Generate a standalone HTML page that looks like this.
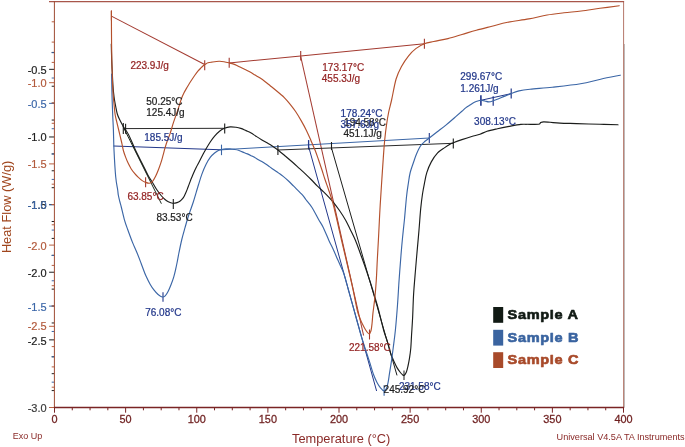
<!DOCTYPE html>
<html><head><meta charset="utf-8"><title>DSC</title>
<style>
html,body{margin:0;padding:0;background:#fff;}
body{width:685px;height:447px;overflow:hidden;}
svg{display:block;will-change:transform;}
text{font-family:"Liberation Sans",sans-serif;}
</style></head>
<body>
<svg width="685" height="447" viewBox="0 0 685 447">
<rect x="0" y="0" width="685" height="447" fill="#ffffff"/>
<line x1="51.70" y1="52.43" x2="54.30" y2="52.43" stroke="#1e1e1e" stroke-width="1.0"/>
<line x1="49.10" y1="69.33" x2="54.30" y2="69.33" stroke="#1e1e1e" stroke-width="1.0"/>
<line x1="51.70" y1="86.24" x2="54.30" y2="86.24" stroke="#1e1e1e" stroke-width="1.0"/>
<line x1="51.70" y1="103.15" x2="54.30" y2="103.15" stroke="#1e1e1e" stroke-width="1.0"/>
<line x1="51.70" y1="120.06" x2="54.30" y2="120.06" stroke="#1e1e1e" stroke-width="1.0"/>
<line x1="49.10" y1="136.97" x2="54.30" y2="136.97" stroke="#1e1e1e" stroke-width="1.0"/>
<line x1="51.70" y1="153.88" x2="54.30" y2="153.88" stroke="#1e1e1e" stroke-width="1.0"/>
<line x1="51.70" y1="170.78" x2="54.30" y2="170.78" stroke="#1e1e1e" stroke-width="1.0"/>
<line x1="51.70" y1="187.69" x2="54.30" y2="187.69" stroke="#1e1e1e" stroke-width="1.0"/>
<line x1="49.10" y1="204.60" x2="54.30" y2="204.60" stroke="#1e1e1e" stroke-width="1.0"/>
<line x1="51.70" y1="221.51" x2="54.30" y2="221.51" stroke="#1e1e1e" stroke-width="1.0"/>
<line x1="51.70" y1="238.42" x2="54.30" y2="238.42" stroke="#1e1e1e" stroke-width="1.0"/>
<line x1="51.70" y1="255.32" x2="54.30" y2="255.32" stroke="#1e1e1e" stroke-width="1.0"/>
<line x1="49.10" y1="272.23" x2="54.30" y2="272.23" stroke="#1e1e1e" stroke-width="1.0"/>
<line x1="51.70" y1="289.14" x2="54.30" y2="289.14" stroke="#1e1e1e" stroke-width="1.0"/>
<line x1="51.70" y1="306.05" x2="54.30" y2="306.05" stroke="#1e1e1e" stroke-width="1.0"/>
<line x1="51.70" y1="322.96" x2="54.30" y2="322.96" stroke="#1e1e1e" stroke-width="1.0"/>
<line x1="49.10" y1="339.87" x2="54.30" y2="339.87" stroke="#1e1e1e" stroke-width="1.0"/>
<line x1="51.70" y1="356.78" x2="54.30" y2="356.78" stroke="#1e1e1e" stroke-width="1.0"/>
<line x1="51.70" y1="373.68" x2="54.30" y2="373.68" stroke="#1e1e1e" stroke-width="1.0"/>
<line x1="51.70" y1="390.59" x2="54.30" y2="390.59" stroke="#1e1e1e" stroke-width="1.0"/>
<line x1="49.10" y1="407.50" x2="54.30" y2="407.50" stroke="#1e1e1e" stroke-width="1.0"/>
<line x1="51.70" y1="52.69" x2="54.30" y2="52.69" stroke="#3d68a6" stroke-width="1.0"/>
<line x1="51.70" y1="78.03" x2="54.30" y2="78.03" stroke="#3d68a6" stroke-width="1.0"/>
<line x1="49.10" y1="103.38" x2="54.30" y2="103.38" stroke="#3d68a6" stroke-width="1.0"/>
<line x1="51.70" y1="128.72" x2="54.30" y2="128.72" stroke="#3d68a6" stroke-width="1.0"/>
<line x1="51.70" y1="154.06" x2="54.30" y2="154.06" stroke="#3d68a6" stroke-width="1.0"/>
<line x1="51.70" y1="179.41" x2="54.30" y2="179.41" stroke="#3d68a6" stroke-width="1.0"/>
<line x1="49.10" y1="204.75" x2="54.30" y2="204.75" stroke="#3d68a6" stroke-width="1.0"/>
<line x1="51.70" y1="230.09" x2="54.30" y2="230.09" stroke="#3d68a6" stroke-width="1.0"/>
<line x1="51.70" y1="255.44" x2="54.30" y2="255.44" stroke="#3d68a6" stroke-width="1.0"/>
<line x1="51.70" y1="280.78" x2="54.30" y2="280.78" stroke="#3d68a6" stroke-width="1.0"/>
<line x1="49.10" y1="306.12" x2="54.30" y2="306.12" stroke="#3d68a6" stroke-width="1.0"/>
<line x1="51.70" y1="331.47" x2="54.30" y2="331.47" stroke="#3d68a6" stroke-width="1.0"/>
<line x1="51.70" y1="356.81" x2="54.30" y2="356.81" stroke="#3d68a6" stroke-width="1.0"/>
<line x1="51.70" y1="382.16" x2="54.30" y2="382.16" stroke="#3d68a6" stroke-width="1.0"/>
<line x1="49.10" y1="407.50" x2="54.30" y2="407.50" stroke="#3d68a6" stroke-width="1.0"/>
<line x1="49.10" y1="1.50" x2="54.30" y2="1.50" stroke="#b86040" stroke-width="1.0"/>
<line x1="51.70" y1="21.80" x2="54.30" y2="21.80" stroke="#b86040" stroke-width="1.0"/>
<line x1="51.70" y1="42.10" x2="54.30" y2="42.10" stroke="#b86040" stroke-width="1.0"/>
<line x1="51.70" y1="62.40" x2="54.30" y2="62.40" stroke="#b86040" stroke-width="1.0"/>
<line x1="49.10" y1="82.70" x2="54.30" y2="82.70" stroke="#b86040" stroke-width="1.0"/>
<line x1="51.70" y1="103.00" x2="54.30" y2="103.00" stroke="#b86040" stroke-width="1.0"/>
<line x1="51.70" y1="123.30" x2="54.30" y2="123.30" stroke="#b86040" stroke-width="1.0"/>
<line x1="51.70" y1="143.60" x2="54.30" y2="143.60" stroke="#b86040" stroke-width="1.0"/>
<line x1="49.10" y1="163.90" x2="54.30" y2="163.90" stroke="#b86040" stroke-width="1.0"/>
<line x1="51.70" y1="184.20" x2="54.30" y2="184.20" stroke="#b86040" stroke-width="1.0"/>
<line x1="51.70" y1="204.50" x2="54.30" y2="204.50" stroke="#b86040" stroke-width="1.0"/>
<line x1="51.70" y1="224.80" x2="54.30" y2="224.80" stroke="#b86040" stroke-width="1.0"/>
<line x1="49.10" y1="245.10" x2="54.30" y2="245.10" stroke="#b86040" stroke-width="1.0"/>
<line x1="51.70" y1="265.40" x2="54.30" y2="265.40" stroke="#b86040" stroke-width="1.0"/>
<line x1="51.70" y1="285.70" x2="54.30" y2="285.70" stroke="#b86040" stroke-width="1.0"/>
<line x1="51.70" y1="306.00" x2="54.30" y2="306.00" stroke="#b86040" stroke-width="1.0"/>
<line x1="49.10" y1="326.30" x2="54.30" y2="326.30" stroke="#b86040" stroke-width="1.0"/>
<line x1="51.70" y1="346.60" x2="54.30" y2="346.60" stroke="#b86040" stroke-width="1.0"/>
<line x1="51.70" y1="366.90" x2="54.30" y2="366.90" stroke="#b86040" stroke-width="1.0"/>
<line x1="51.70" y1="387.20" x2="54.30" y2="387.20" stroke="#b86040" stroke-width="1.0"/>
<line x1="49.10" y1="407.50" x2="54.30" y2="407.50" stroke="#b86040" stroke-width="1.0"/>
<line x1="54.50" y1="407.50" x2="54.50" y2="412.70" stroke="#7a2424" stroke-width="1.0"/>
<line x1="72.28" y1="407.50" x2="72.28" y2="410.30" stroke="#7a2424" stroke-width="1.0"/>
<line x1="90.06" y1="407.50" x2="90.06" y2="410.30" stroke="#7a2424" stroke-width="1.0"/>
<line x1="107.84" y1="407.50" x2="107.84" y2="410.30" stroke="#7a2424" stroke-width="1.0"/>
<line x1="125.62" y1="407.50" x2="125.62" y2="412.70" stroke="#7a2424" stroke-width="1.0"/>
<line x1="143.41" y1="407.50" x2="143.41" y2="410.30" stroke="#7a2424" stroke-width="1.0"/>
<line x1="161.19" y1="407.50" x2="161.19" y2="410.30" stroke="#7a2424" stroke-width="1.0"/>
<line x1="178.97" y1="407.50" x2="178.97" y2="410.30" stroke="#7a2424" stroke-width="1.0"/>
<line x1="196.75" y1="407.50" x2="196.75" y2="412.70" stroke="#7a2424" stroke-width="1.0"/>
<line x1="214.53" y1="407.50" x2="214.53" y2="410.30" stroke="#7a2424" stroke-width="1.0"/>
<line x1="232.31" y1="407.50" x2="232.31" y2="410.30" stroke="#7a2424" stroke-width="1.0"/>
<line x1="250.09" y1="407.50" x2="250.09" y2="410.30" stroke="#7a2424" stroke-width="1.0"/>
<line x1="267.88" y1="407.50" x2="267.88" y2="412.70" stroke="#7a2424" stroke-width="1.0"/>
<line x1="285.66" y1="407.50" x2="285.66" y2="410.30" stroke="#7a2424" stroke-width="1.0"/>
<line x1="303.44" y1="407.50" x2="303.44" y2="410.30" stroke="#7a2424" stroke-width="1.0"/>
<line x1="321.22" y1="407.50" x2="321.22" y2="410.30" stroke="#7a2424" stroke-width="1.0"/>
<line x1="339.00" y1="407.50" x2="339.00" y2="412.70" stroke="#7a2424" stroke-width="1.0"/>
<line x1="356.78" y1="407.50" x2="356.78" y2="410.30" stroke="#7a2424" stroke-width="1.0"/>
<line x1="374.56" y1="407.50" x2="374.56" y2="410.30" stroke="#7a2424" stroke-width="1.0"/>
<line x1="392.34" y1="407.50" x2="392.34" y2="410.30" stroke="#7a2424" stroke-width="1.0"/>
<line x1="410.12" y1="407.50" x2="410.12" y2="412.70" stroke="#7a2424" stroke-width="1.0"/>
<line x1="427.91" y1="407.50" x2="427.91" y2="410.30" stroke="#7a2424" stroke-width="1.0"/>
<line x1="445.69" y1="407.50" x2="445.69" y2="410.30" stroke="#7a2424" stroke-width="1.0"/>
<line x1="463.47" y1="407.50" x2="463.47" y2="410.30" stroke="#7a2424" stroke-width="1.0"/>
<line x1="481.25" y1="407.50" x2="481.25" y2="412.70" stroke="#7a2424" stroke-width="1.0"/>
<line x1="499.03" y1="407.50" x2="499.03" y2="410.30" stroke="#7a2424" stroke-width="1.0"/>
<line x1="516.81" y1="407.50" x2="516.81" y2="410.30" stroke="#7a2424" stroke-width="1.0"/>
<line x1="534.59" y1="407.50" x2="534.59" y2="410.30" stroke="#7a2424" stroke-width="1.0"/>
<line x1="552.38" y1="407.50" x2="552.38" y2="412.70" stroke="#7a2424" stroke-width="1.0"/>
<line x1="570.16" y1="407.50" x2="570.16" y2="410.30" stroke="#7a2424" stroke-width="1.0"/>
<line x1="587.94" y1="407.50" x2="587.94" y2="410.30" stroke="#7a2424" stroke-width="1.0"/>
<line x1="605.72" y1="407.50" x2="605.72" y2="410.30" stroke="#7a2424" stroke-width="1.0"/>
<line x1="623.50" y1="407.50" x2="623.50" y2="412.70" stroke="#7a2424" stroke-width="1.0"/>
<line x1="624.40" y1="44.00" x2="624.40" y2="407.50" stroke="#a8a8a8" stroke-width="0.8"/>
<line x1="623.60" y1="1.50" x2="623.60" y2="407.50" stroke="#b5786a" stroke-width="1.0"/>
<line x1="49.00" y1="1.70" x2="624.10" y2="1.70" stroke="#a8564a" stroke-width="1.2"/>
<line x1="54.40" y1="1.00" x2="54.40" y2="407.50" stroke="#9e4b33" stroke-width="1.0"/>
<line x1="53.90" y1="407.50" x2="624.10" y2="407.50" stroke="#7a2424" stroke-width="1.6"/>
<line x1="111.40" y1="16.10" x2="204.70" y2="64.50" stroke="#a33a30" stroke-width="1.05"/>
<line x1="229.20" y1="62.90" x2="300.70" y2="55.90" stroke="#a33a30" stroke-width="1.05"/>
<line x1="300.70" y1="55.90" x2="424.40" y2="43.80" stroke="#a33a30" stroke-width="1.05"/>
<line x1="300.70" y1="56.50" x2="363.60" y2="335.50" stroke="#a33a30" stroke-width="1.05"/>
<line x1="111.40" y1="10.60" x2="111.40" y2="20.60" stroke="#a33a30" stroke-width="1.1"/>
<line x1="204.70" y1="60.30" x2="204.70" y2="70.30" stroke="#a33a30" stroke-width="1.1"/>
<line x1="229.20" y1="57.70" x2="229.20" y2="67.70" stroke="#a33a30" stroke-width="1.1"/>
<line x1="300.70" y1="51.05" x2="300.70" y2="60.55" stroke="#a33a30" stroke-width="1.1"/>
<line x1="424.40" y1="38.70" x2="424.40" y2="48.70" stroke="#a33a30" stroke-width="1.1"/>
<line x1="145.60" y1="177.20" x2="145.60" y2="187.20" stroke="#a33a30" stroke-width="1.1"/>
<line x1="369.50" y1="329.50" x2="369.50" y2="339.50" stroke="#a33a30" stroke-width="1.1"/>
<line x1="113.40" y1="146.00" x2="221.50" y2="149.80" stroke="#22378a" stroke-width="1.0"/>
<line x1="221.50" y1="149.80" x2="429.30" y2="138.00" stroke="#3b66a6" stroke-width="1.0"/>
<line x1="308.60" y1="146.50" x2="376.60" y2="391.00" stroke="#22378a" stroke-width="1.0"/>
<line x1="480.90" y1="100.30" x2="511.20" y2="93.60" stroke="#22378a" stroke-width="1.0"/>
<line x1="221.50" y1="144.65" x2="221.50" y2="155.15" stroke="#3b66a6" stroke-width="1.1"/>
<line x1="308.60" y1="140.05" x2="308.60" y2="149.55" stroke="#22378a" stroke-width="1.3"/>
<line x1="429.30" y1="132.90" x2="429.30" y2="142.90" stroke="#22378a" stroke-width="1.1"/>
<line x1="163.00" y1="292.20" x2="163.00" y2="301.80" stroke="#22378a" stroke-width="1.1"/>
<line x1="384.10" y1="385.25" x2="384.10" y2="395.75" stroke="#3b66a6" stroke-width="1.1"/>
<line x1="480.90" y1="95.25" x2="480.90" y2="105.75" stroke="#22378a" stroke-width="1.6"/>
<line x1="493.20" y1="96.25" x2="493.20" y2="105.75" stroke="#22378a" stroke-width="1.2"/>
<line x1="511.20" y1="88.40" x2="511.20" y2="98.40" stroke="#22378a" stroke-width="1.2"/>
<line x1="124.30" y1="128.60" x2="224.70" y2="128.30" stroke="#2a2a2a" stroke-width="1.0"/>
<line x1="277.90" y1="150.00" x2="453.30" y2="143.30" stroke="#2a2a2a" stroke-width="1.0"/>
<line x1="331.50" y1="148.00" x2="397.00" y2="375.40" stroke="#1b1d1b" stroke-width="1.0"/>
<line x1="123.00" y1="126.50" x2="161.40" y2="203.70" stroke="#1c2a1d" stroke-width="1.0"/>
<line x1="123.30" y1="123.00" x2="123.30" y2="134.00" stroke="#1b1d1b" stroke-width="1.1"/>
<line x1="125.60" y1="123.70" x2="125.60" y2="133.70" stroke="#1b1d1b" stroke-width="1.1"/>
<line x1="224.70" y1="123.40" x2="224.70" y2="133.40" stroke="#1b1d1b" stroke-width="1.1"/>
<line x1="277.90" y1="145.00" x2="277.90" y2="155.00" stroke="#3a3a3a" stroke-width="1.3"/>
<line x1="331.50" y1="142.00" x2="331.50" y2="150.00" stroke="#1b1d1b" stroke-width="1.1"/>
<line x1="453.30" y1="138.50" x2="453.30" y2="148.50" stroke="#1b1d1b" stroke-width="1.1"/>
<line x1="173.30" y1="199.00" x2="173.30" y2="209.00" stroke="#1b1d1b" stroke-width="1.1"/>
<line x1="404.00" y1="370.55" x2="404.00" y2="380.05" stroke="#333" stroke-width="1.1"/>
<path d="M111.30,44.00 C111.37,46.67 111.52,54.83 111.70,60.00 C111.88,65.17 112.20,70.83 112.40,75.00 C112.60,79.17 112.70,82.00 112.90,85.00 C113.10,88.00 113.33,90.50 113.60,93.00 C113.87,95.50 114.13,97.67 114.50,100.00 C114.87,102.33 115.33,104.67 115.80,107.00 C116.27,109.33 116.67,111.90 117.30,114.00 C117.93,116.10 118.62,117.55 119.60,119.60 C120.58,121.65 121.68,123.75 123.20,126.30 C124.72,128.85 126.82,131.28 128.70,134.90 C130.58,138.52 132.87,144.43 134.50,148.00 C136.13,151.57 137.10,153.48 138.50,156.30 C139.90,159.12 141.32,161.73 142.90,164.90 C144.48,168.07 146.45,172.45 148.00,175.30 C149.55,178.15 150.78,179.67 152.20,182.00 C153.62,184.33 155.02,187.05 156.50,189.30 C157.98,191.55 159.68,193.80 161.10,195.50 C162.52,197.20 163.80,198.47 165.00,199.50 C166.20,200.53 167.02,201.08 168.30,201.70 C169.58,202.32 171.25,203.05 172.70,203.20 C174.15,203.35 175.75,202.97 177.00,202.60 C178.25,202.23 179.30,201.63 180.20,201.00 C181.10,200.37 181.73,199.60 182.40,198.80 C183.07,198.00 183.63,197.20 184.20,196.20 C184.77,195.20 185.28,193.98 185.80,192.80 C186.32,191.62 186.80,190.38 187.30,189.10 C187.80,187.82 188.30,186.43 188.80,185.10 C189.30,183.77 189.80,182.40 190.30,181.10 C190.80,179.80 191.28,178.58 191.80,177.30 C192.32,176.02 192.65,175.07 193.40,173.40 C194.15,171.73 195.35,169.18 196.30,167.30 C197.25,165.42 197.93,164.37 199.10,162.10 C200.27,159.83 202.13,155.92 203.30,153.70 C204.47,151.48 204.92,150.80 206.10,148.80 C207.28,146.80 208.98,143.82 210.40,141.70 C211.82,139.58 213.08,137.85 214.60,136.10 C216.12,134.35 217.87,132.50 219.50,131.20 C221.13,129.90 222.63,129.02 224.40,128.30 C226.17,127.58 228.17,127.07 230.10,126.90 C232.03,126.73 234.22,127.05 236.00,127.30 C237.78,127.55 239.13,127.85 240.80,128.40 C242.47,128.95 244.35,129.88 246.00,130.60 C247.65,131.32 249.03,131.77 250.70,132.70 C252.37,133.63 254.20,135.03 256.00,136.20 C257.80,137.37 259.67,138.60 261.50,139.70 C263.33,140.80 265.22,141.77 267.00,142.80 C268.78,143.83 270.32,144.67 272.20,145.90 C274.08,147.13 276.08,148.48 278.30,150.20 C280.52,151.92 283.12,154.18 285.50,156.20 C287.88,158.22 290.30,160.27 292.60,162.30 C294.90,164.33 297.05,166.35 299.30,168.40 C301.55,170.45 304.05,172.67 306.10,174.60 C308.15,176.53 309.75,178.13 311.60,180.00 C313.45,181.87 315.20,183.83 317.20,185.80 C319.20,187.77 321.63,189.88 323.60,191.80 C325.57,193.72 327.33,195.50 329.00,197.30 C330.67,199.10 331.85,200.40 333.60,202.60 C335.35,204.80 337.52,207.60 339.50,210.50 C341.48,213.40 343.75,216.92 345.50,220.00 C347.25,223.08 348.33,225.58 350.00,229.00 C351.67,232.42 353.75,236.33 355.50,240.50 C357.25,244.67 359.00,249.92 360.50,254.00 C362.00,258.08 363.32,261.62 364.50,265.00 C365.68,268.38 366.65,271.47 367.60,274.30 C368.55,277.13 369.40,279.55 370.20,282.00 C371.00,284.45 371.18,285.00 372.40,289.00 C373.62,293.00 375.63,299.17 377.50,306.00 C379.37,312.83 381.93,324.00 383.60,330.00 C385.27,336.00 386.32,338.08 387.50,342.00 C388.68,345.92 389.62,350.25 390.70,353.50 C391.78,356.75 392.95,359.15 394.00,361.50 C395.05,363.85 396.00,365.85 397.00,367.60 C398.00,369.35 399.10,370.83 400.00,372.00 C400.90,373.17 401.73,374.03 402.40,374.60 C403.07,375.17 403.35,375.78 404.00,375.40 C404.65,375.02 405.63,373.87 406.30,372.30 C406.97,370.73 407.47,368.35 408.00,366.00 C408.53,363.65 409.03,361.20 409.50,358.20 C409.97,355.20 410.47,351.70 410.80,348.00 C411.13,344.30 411.20,341.00 411.50,336.00 C411.80,331.00 412.25,324.95 412.60,318.00 C412.95,311.05 413.12,302.30 413.60,294.30 C414.08,286.30 414.92,277.15 415.50,270.00 C416.08,262.85 416.52,258.07 417.10,251.40 C417.68,244.73 418.40,237.13 419.00,230.00 C419.60,222.87 420.12,214.60 420.70,208.60 C421.28,202.60 421.87,198.27 422.50,194.00 C423.13,189.73 423.78,186.57 424.50,183.00 C425.22,179.43 425.67,176.12 426.80,172.60 C427.93,169.08 429.50,165.18 431.30,161.90 C433.10,158.62 435.37,155.28 437.60,152.90 C439.83,150.52 442.63,149.05 444.70,147.60 C446.77,146.15 448.57,145.02 450.00,144.20 C451.43,143.38 451.32,143.47 453.30,142.70 C455.28,141.93 458.83,140.63 461.90,139.60 C464.97,138.57 468.68,137.38 471.70,136.50 C474.72,135.62 477.45,135.18 480.00,134.30 C482.55,133.42 484.08,132.13 487.00,131.20 C489.92,130.27 493.80,129.50 497.50,128.70 C501.20,127.90 505.30,127.12 509.20,126.40 C513.10,125.68 517.98,124.75 520.90,124.40 C523.82,124.05 523.78,124.32 526.70,124.30 C529.62,124.28 536.07,124.58 538.40,124.30 C540.73,124.02 539.82,123.00 540.70,122.60 C541.58,122.20 542.13,121.95 543.70,121.90 C545.27,121.85 547.38,122.10 550.10,122.30 C552.82,122.50 555.60,122.88 560.00,123.10 C564.40,123.32 569.83,123.40 576.50,123.60 C583.17,123.80 593.08,124.10 600.00,124.30 C606.92,124.50 615.00,124.72 618.00,124.80" fill="none" stroke="#1b1d1b" stroke-width="1.15" stroke-linejoin="round" stroke-linecap="round" />
<path d="M111.60,74.00 C111.67,77.50 111.82,88.17 112.00,95.00 C112.18,101.83 112.47,109.17 112.70,115.00 C112.93,120.83 113.18,124.17 113.40,130.00 C113.62,135.83 113.62,142.20 114.00,150.00 C114.38,157.80 115.08,170.13 115.70,176.80 C116.32,183.47 117.27,186.97 117.70,190.00 C118.13,193.03 117.95,193.08 118.30,195.00 C118.65,196.92 119.28,199.42 119.80,201.50 C120.32,203.58 120.62,204.40 121.40,207.50 C122.18,210.60 123.45,216.43 124.50,220.10 C125.55,223.77 126.38,225.83 127.70,229.50 C129.02,233.17 130.83,238.18 132.40,242.10 C133.97,246.02 135.67,249.52 137.10,253.00 C138.53,256.48 140.02,260.42 141.00,263.00 C141.98,265.58 142.17,266.32 143.00,268.50 C143.83,270.68 144.82,273.48 146.00,276.10 C147.18,278.72 148.75,281.85 150.10,284.20 C151.45,286.55 152.77,288.48 154.10,290.20 C155.43,291.92 156.75,293.37 158.10,294.50 C159.45,295.63 161.02,296.78 162.20,297.00 C163.38,297.22 164.20,296.77 165.20,295.80 C166.20,294.83 167.20,293.13 168.20,291.20 C169.20,289.27 170.28,286.55 171.20,284.20 C172.12,281.85 172.98,279.47 173.70,277.10 C174.42,274.73 174.92,272.52 175.50,270.00 C176.08,267.48 176.63,264.83 177.20,262.00 C177.77,259.17 178.13,256.75 178.90,253.00 C179.67,249.25 180.77,243.77 181.80,239.50 C182.83,235.23 184.10,230.98 185.10,227.40 C186.10,223.82 186.90,220.90 187.80,218.00 C188.70,215.10 189.58,212.67 190.50,210.00 C191.42,207.33 191.98,206.17 193.30,202.00 C194.62,197.83 196.97,189.65 198.40,185.00 C199.83,180.35 200.62,177.55 201.90,174.10 C203.18,170.65 204.68,167.12 206.10,164.30 C207.52,161.48 208.98,159.08 210.40,157.20 C211.82,155.32 213.20,154.17 214.60,153.00 C216.00,151.83 217.63,150.78 218.80,150.20 C219.97,149.62 220.40,149.72 221.60,149.50 C222.80,149.28 224.60,149.02 226.00,148.90 C227.40,148.78 228.67,148.72 230.00,148.80 C231.33,148.88 232.60,149.15 234.00,149.40 C235.40,149.65 236.92,149.85 238.40,150.30 C239.88,150.75 241.40,151.50 242.90,152.10 C244.40,152.70 245.90,153.23 247.40,153.90 C248.90,154.57 250.42,155.35 251.90,156.10 C253.38,156.85 254.82,157.58 256.30,158.40 C257.78,159.22 259.30,160.12 260.80,161.00 C262.30,161.88 263.80,162.72 265.30,163.70 C266.80,164.68 268.32,165.85 269.80,166.90 C271.28,167.95 272.72,168.97 274.20,170.00 C275.68,171.03 277.20,172.03 278.70,173.10 C280.20,174.17 281.57,175.08 283.20,176.40 C284.83,177.72 286.75,179.37 288.50,181.00 C290.25,182.63 291.35,183.85 293.70,186.20 C296.05,188.55 300.52,192.80 302.60,195.10 C304.68,197.40 304.63,197.93 306.20,200.00 C307.77,202.07 309.93,204.25 312.00,207.50 C314.07,210.75 316.77,216.25 318.60,219.50 C320.43,222.75 321.28,223.52 323.00,227.00 C324.72,230.48 327.15,236.57 328.90,240.40 C330.65,244.23 332.00,246.72 333.50,250.00 C335.00,253.28 336.65,257.27 337.90,260.10 C339.15,262.93 340.05,264.85 341.00,267.00 C341.95,269.15 342.82,270.83 343.60,273.00 C344.38,275.17 344.90,277.17 345.70,280.00 C346.50,282.83 347.48,286.67 348.40,290.00 C349.32,293.33 350.27,296.67 351.20,300.00 C352.13,303.33 353.08,306.67 354.00,310.00 C354.92,313.33 355.78,316.67 356.70,320.00 C357.62,323.33 358.55,326.67 359.50,330.00 C360.45,333.33 361.48,337.00 362.40,340.00 C363.32,343.00 364.20,345.53 365.00,348.00 C365.80,350.47 366.40,352.35 367.20,354.80 C368.00,357.25 368.77,359.45 369.80,362.70 C370.83,365.95 372.20,371.02 373.40,374.30 C374.60,377.58 375.82,380.15 377.00,382.40 C378.18,384.65 379.32,386.38 380.50,387.80 C381.68,389.22 383.12,390.77 384.10,390.90 C385.08,391.03 385.73,390.02 386.40,388.60 C387.07,387.18 387.58,384.93 388.10,382.40 C388.62,379.87 389.05,376.23 389.50,373.40 C389.95,370.57 390.40,367.97 390.80,365.40 C391.20,362.83 391.50,360.90 391.90,358.00 C392.30,355.10 392.62,352.67 393.20,348.00 C393.78,343.33 394.68,337.17 395.40,330.00 C396.12,322.83 396.88,313.33 397.50,305.00 C398.12,296.67 398.52,288.33 399.10,280.00 C399.68,271.67 400.42,262.17 401.00,255.00 C401.58,247.83 402.03,242.83 402.60,237.00 C403.17,231.17 403.73,226.83 404.40,220.00 C405.07,213.17 405.93,202.17 406.60,196.00 C407.27,189.83 407.80,186.92 408.40,183.00 C409.00,179.08 409.30,176.08 410.20,172.50 C411.10,168.92 412.75,164.58 413.80,161.50 C414.85,158.42 415.37,156.62 416.50,154.00 C417.63,151.38 419.18,147.92 420.60,145.80 C422.02,143.68 423.55,142.60 425.00,141.30 C426.45,140.00 427.25,139.58 429.30,138.00 C431.35,136.42 434.53,133.95 437.30,131.80 C440.07,129.65 443.03,127.45 445.90,125.10 C448.77,122.75 451.83,120.02 454.50,117.70 C457.17,115.38 459.98,112.88 461.90,111.20 C463.82,109.52 464.65,108.63 466.00,107.60 C467.35,106.57 468.60,105.88 470.00,105.00 C471.40,104.12 472.93,103.02 474.40,102.30 C475.87,101.58 477.72,101.03 478.80,100.70 C479.88,100.37 479.88,100.25 480.90,100.30 C481.92,100.35 483.58,100.73 484.90,101.00 C486.22,101.27 487.42,101.93 488.80,101.90 C490.18,101.87 491.08,101.53 493.20,100.80 C495.32,100.07 498.50,98.70 501.50,97.50 C504.50,96.30 508.28,94.70 511.20,93.60 C514.12,92.50 515.87,91.63 519.00,90.90 C522.13,90.17 524.45,89.82 530.00,89.20 C535.55,88.58 543.88,88.10 552.30,87.20 C560.72,86.30 572.45,85.13 580.50,83.80 C588.55,82.47 593.97,80.63 600.60,79.20 C607.23,77.77 617.02,75.87 620.30,75.20" fill="none" stroke="#3b66a6" stroke-width="1.15" stroke-linejoin="round" stroke-linecap="round" />
<path d="M111.40,11.00 C111.42,15.00 111.43,26.83 111.50,35.00 C111.57,43.17 111.67,53.33 111.80,60.00 C111.93,66.67 112.17,70.83 112.30,75.00 C112.43,79.17 112.45,81.67 112.60,85.00 C112.75,88.33 112.93,91.50 113.20,95.00 C113.47,98.50 113.87,102.67 114.20,106.00 C114.53,109.33 114.75,112.25 115.20,115.00 C115.65,117.75 116.32,120.00 116.90,122.50 C117.48,125.00 117.98,127.00 118.70,130.00 C119.42,133.00 120.62,138.00 121.20,140.50 C121.78,143.00 121.82,143.25 122.20,145.00 C122.58,146.75 122.93,148.98 123.50,151.00 C124.07,153.02 124.83,155.08 125.60,157.10 C126.37,159.12 127.18,161.17 128.10,163.10 C129.02,165.03 130.02,166.98 131.10,168.70 C132.18,170.42 133.43,172.00 134.60,173.40 C135.77,174.80 136.83,175.90 138.10,177.10 C139.37,178.30 140.95,179.72 142.20,180.60 C143.45,181.48 144.42,181.97 145.60,182.40 C146.78,182.83 148.17,183.33 149.30,183.20 C150.43,183.07 151.35,182.75 152.40,181.60 C153.45,180.45 154.57,178.37 155.60,176.30 C156.63,174.23 157.68,171.55 158.60,169.20 C159.52,166.85 160.35,164.55 161.10,162.20 C161.85,159.85 162.43,157.53 163.10,155.10 C163.77,152.67 164.37,150.08 165.10,147.60 C165.83,145.12 166.67,142.53 167.50,140.20 C168.33,137.87 169.10,136.57 170.10,133.60 C171.10,130.63 172.28,126.13 173.50,122.40 C174.72,118.67 176.38,114.18 177.40,111.20 C178.42,108.22 178.92,106.62 179.60,104.50 C180.28,102.38 180.78,100.42 181.50,98.50 C182.22,96.58 183.02,94.77 183.90,93.00 C184.78,91.23 185.87,89.52 186.80,87.90 C187.73,86.28 188.58,84.78 189.50,83.30 C190.42,81.82 191.38,80.38 192.30,79.00 C193.22,77.62 194.07,76.30 195.00,75.00 C195.93,73.70 196.95,72.33 197.90,71.20 C198.85,70.07 199.82,69.10 200.70,68.20 C201.58,67.30 202.40,66.47 203.20,65.80 C204.00,65.13 204.70,64.70 205.50,64.20 C206.30,63.70 206.93,63.15 208.00,62.80 C209.07,62.45 210.07,62.35 211.90,62.10 C213.73,61.85 216.98,61.37 219.00,61.30 C221.02,61.23 222.30,61.43 224.00,61.70 C225.70,61.97 227.37,62.42 229.20,62.90 C231.03,63.38 233.20,63.90 235.00,64.60 C236.80,65.30 238.32,66.27 240.00,67.10 C241.68,67.93 243.42,68.77 245.10,69.60 C246.78,70.43 248.43,71.18 250.10,72.10 C251.77,73.02 253.42,74.10 255.10,75.10 C256.78,76.10 258.52,77.00 260.20,78.10 C261.88,79.20 263.53,80.43 265.20,81.70 C266.87,82.97 268.53,84.37 270.20,85.70 C271.87,87.03 273.52,88.32 275.20,89.70 C276.88,91.08 278.78,92.68 280.30,94.00 C281.82,95.32 282.65,95.88 284.30,97.60 C285.95,99.32 288.32,101.98 290.20,104.30 C292.08,106.62 293.80,108.82 295.60,111.50 C297.40,114.18 299.22,117.28 301.00,120.40 C302.78,123.52 304.62,126.78 306.30,130.20 C307.98,133.62 309.63,137.55 311.10,140.90 C312.57,144.25 313.87,147.17 315.10,150.30 C316.33,153.43 317.38,156.50 318.50,159.70 C319.62,162.90 320.72,166.20 321.80,169.50 C322.88,172.80 323.88,176.17 325.00,179.50 C326.12,182.83 327.33,186.08 328.50,189.50 C329.67,192.92 330.98,196.58 332.00,200.00 C333.02,203.42 333.73,206.50 334.60,210.00 C335.47,213.50 336.05,216.00 337.20,221.00 C338.35,226.00 340.03,233.67 341.50,240.00 C342.97,246.33 344.58,253.00 346.00,259.00 C347.42,265.00 348.82,270.83 350.00,276.00 C351.18,281.17 351.87,284.18 353.10,290.00 C354.33,295.82 356.28,306.23 357.40,310.90 C358.52,315.57 359.07,316.02 359.80,318.00 C360.53,319.98 360.85,320.85 361.80,322.80 C362.75,324.75 364.32,327.88 365.50,329.70 C366.68,331.52 368.00,333.48 368.90,333.70 C369.80,333.92 370.37,332.78 370.90,331.00 C371.43,329.22 371.77,325.90 372.10,323.00 C372.43,320.10 372.43,317.87 372.90,313.60 C373.37,309.33 374.33,303.00 374.90,297.40 C375.47,291.80 375.90,286.23 376.30,280.00 C376.70,273.77 376.95,266.67 377.30,260.00 C377.65,253.33 378.05,246.67 378.40,240.00 C378.75,233.33 379.10,225.83 379.40,220.00 C379.70,214.17 379.85,210.87 380.20,205.00 C380.55,199.13 380.98,192.65 381.50,184.80 C382.02,176.95 382.77,165.37 383.30,157.90 C383.83,150.43 384.17,145.48 384.70,140.00 C385.23,134.52 385.83,129.67 386.50,125.00 C387.17,120.33 387.85,116.17 388.70,112.00 C389.55,107.83 390.37,105.50 391.60,100.00 C392.83,94.50 394.45,84.58 396.10,79.00 C397.75,73.42 399.42,70.37 401.50,66.50 C403.58,62.63 406.22,58.78 408.60,55.80 C410.98,52.82 413.17,50.60 415.80,48.60 C418.43,46.60 421.42,44.98 424.40,43.80 C427.38,42.62 429.77,42.37 433.70,41.50 C437.63,40.63 443.28,39.77 448.00,38.60 C452.72,37.43 457.28,35.90 462.00,34.50 C466.72,33.10 471.30,31.58 476.30,30.20 C481.30,28.82 486.77,27.52 492.00,26.20 C497.23,24.88 501.57,23.52 507.70,22.30 C513.83,21.08 522.23,20.12 528.80,18.90 C535.37,17.68 541.23,16.02 547.10,15.00 C552.97,13.98 558.32,13.47 564.00,12.80 C569.68,12.13 575.20,11.75 581.20,11.00 C587.20,10.25 593.65,9.17 600.00,8.30 C606.35,7.43 616.08,6.22 619.30,5.80" fill="none" stroke="#b4502c" stroke-width="1.15" stroke-linejoin="round" stroke-linecap="round" />
<rect x="493.2" y="307.0" width="10" height="15.8" fill="#111a14"/>
<rect x="493.2" y="329.8" width="10" height="15.8" fill="#3a64a0"/>
<rect x="493.2" y="352.2" width="10" height="15.8" fill="#a84a2a"/>
<text x="0" y="0" transform="translate(46.6 73.75) scale(0.965 1)" fill="#1e1e1e" stroke="#1e1e1e" stroke-width="0.2" font-size="11.4" text-anchor="end">-0.5</text>
<text x="0" y="0" transform="translate(46.6 87.35) scale(0.965 1)" fill="#b25a3c" stroke="#b25a3c" stroke-width="0.2" font-size="11.4" text-anchor="end">-1.0</text>
<text x="0" y="0" transform="translate(46.6 107.75) scale(0.965 1)" fill="#3c67a8" stroke="#3c67a8" stroke-width="0.2" font-size="11.4" text-anchor="end">-0.5</text>
<text x="0" y="0" transform="translate(46.6 140.95) scale(0.965 1)" fill="#1e1e1e" stroke="#1e1e1e" stroke-width="0.2" font-size="11.4" text-anchor="end">-1.0</text>
<text x="0" y="0" transform="translate(46.6 168.15) scale(0.965 1)" fill="#b25a3c" stroke="#b25a3c" stroke-width="0.2" font-size="11.4" text-anchor="end">-1.5</text>
<text x="0" y="0" transform="translate(46.6 208.75) scale(0.965 1)" fill="#1e1e1e" stroke="#1e1e1e" stroke-width="0.2" font-size="11.4" text-anchor="end">-1.5</text>
<text x="0" y="0" transform="translate(46.6 208.75) scale(0.965 1)" fill="#3c67a8" stroke="#3c67a8" stroke-width="0.2" font-size="11.4" text-anchor="end">-1.0</text>
<text x="0" y="0" transform="translate(46.6 249.75) scale(0.965 1)" fill="#b25a3c" stroke="#b25a3c" stroke-width="0.2" font-size="11.4" text-anchor="end">-2.0</text>
<text x="0" y="0" transform="translate(46.6 276.65) scale(0.965 1)" fill="#1e1e1e" stroke="#1e1e1e" stroke-width="0.2" font-size="11.4" text-anchor="end">-2.0</text>
<text x="0" y="0" transform="translate(46.6 310.55) scale(0.965 1)" fill="#3c67a8" stroke="#3c67a8" stroke-width="0.2" font-size="11.4" text-anchor="end">-1.5</text>
<text x="0" y="0" transform="translate(46.6 330.35) scale(0.965 1)" fill="#b25a3c" stroke="#b25a3c" stroke-width="0.2" font-size="11.4" text-anchor="end">-2.5</text>
<text x="0" y="0" transform="translate(46.6 344.55) scale(0.965 1)" fill="#1e1e1e" stroke="#1e1e1e" stroke-width="0.2" font-size="11.4" text-anchor="end">-2.5</text>
<text x="0" y="0" transform="translate(46.6 412.15) scale(0.965 1)" fill="#3a3a3a" stroke="#3a3a3a" stroke-width="0.2" font-size="11.4" text-anchor="end">-3.0</text>
<text x="0" y="0" transform="translate(54.50 422.7) scale(0.965 1)" fill="#6e1f1f" stroke="#6e1f1f" stroke-width="0.28" font-size="11.3" text-anchor="middle">0</text>
<text x="0" y="0" transform="translate(125.62 422.7) scale(0.965 1)" fill="#6e1f1f" stroke="#6e1f1f" stroke-width="0.28" font-size="11.3" text-anchor="middle">50</text>
<text x="0" y="0" transform="translate(196.75 422.7) scale(0.965 1)" fill="#6e1f1f" stroke="#6e1f1f" stroke-width="0.28" font-size="11.3" text-anchor="middle">100</text>
<text x="0" y="0" transform="translate(267.88 422.7) scale(0.965 1)" fill="#6e1f1f" stroke="#6e1f1f" stroke-width="0.28" font-size="11.3" text-anchor="middle">150</text>
<text x="0" y="0" transform="translate(339.00 422.7) scale(0.965 1)" fill="#6e1f1f" stroke="#6e1f1f" stroke-width="0.28" font-size="11.3" text-anchor="middle">200</text>
<text x="0" y="0" transform="translate(410.12 422.7) scale(0.965 1)" fill="#6e1f1f" stroke="#6e1f1f" stroke-width="0.28" font-size="11.3" text-anchor="middle">250</text>
<text x="0" y="0" transform="translate(481.25 422.7) scale(0.965 1)" fill="#6e1f1f" stroke="#6e1f1f" stroke-width="0.28" font-size="11.3" text-anchor="middle">300</text>
<text x="0" y="0" transform="translate(552.38 422.7) scale(0.965 1)" fill="#6e1f1f" stroke="#6e1f1f" stroke-width="0.28" font-size="11.3" text-anchor="middle">350</text>
<text x="0" y="0" transform="translate(623.50 422.7) scale(0.965 1)" fill="#6e1f1f" stroke="#6e1f1f" stroke-width="0.28" font-size="11.3" text-anchor="middle">400</text>
<text x="341.2" y="443.0" fill="#8a2a28" font-size="12.8" text-anchor="middle" >Temperature (°C)</text>
<text transform="translate(11.2 206.9) rotate(-90)" fill="#a0461e" font-size="12.8" text-anchor="middle">Heat Flow (W/g)</text>
<text x="12.8" y="439.4" fill="#8a2a28" font-size="9" text-anchor="start" >Exo Up</text>
<text x="684.6" y="439.9" fill="#8a2a28" font-size="9.15" text-anchor="end" >Universal V4.5A TA Instruments</text>
<text x="130.4" y="69.4" fill="#942424" font-size="10" text-anchor="start"  stroke="#942424" stroke-width="0.22">223.9J/g</text>
<text x="146.3" y="105.4" fill="#1e1e1e" font-size="10" text-anchor="start"  stroke="#1e1e1e" stroke-width="0.22">50.25°C</text>
<text x="146.3" y="116.4" fill="#1e1e1e" font-size="10" text-anchor="start"  stroke="#1e1e1e" stroke-width="0.22">125.4J/g</text>
<text x="144.3" y="140.5" fill="#22378a" font-size="10" text-anchor="start"  stroke="#22378a" stroke-width="0.22">185.5J/g</text>
<text x="322.3" y="70.8" fill="#942424" font-size="10" text-anchor="start"  stroke="#942424" stroke-width="0.22">173.17°C</text>
<text x="321.8" y="82.3" fill="#942424" font-size="10" text-anchor="start"  stroke="#942424" stroke-width="0.22">455.3J/g</text>
<text x="340.6" y="116.9" fill="#22378a" font-size="10" text-anchor="start"  stroke="#22378a" stroke-width="0.22">178.24°C</text>
<text x="344.1" y="126.1" fill="#1e1e1e" font-size="10" text-anchor="start"  stroke="#1e1e1e" stroke-width="0.22">194.58°C</text>
<text x="340.6" y="128.4" fill="#22378a" font-size="10" text-anchor="start"  stroke="#22378a" stroke-width="0.22">357.6J/g</text>
<text x="343.5" y="136.7" fill="#1e1e1e" font-size="10" text-anchor="start"  stroke="#1e1e1e" stroke-width="0.22">451.1J/g</text>
<text x="460.3" y="80.1" fill="#22378a" font-size="10" text-anchor="start"  stroke="#22378a" stroke-width="0.22">299.67°C</text>
<text x="460.3" y="91.8" fill="#22378a" font-size="10" text-anchor="start"  stroke="#22378a" stroke-width="0.22">1.261J/g</text>
<text x="474.1" y="124.9" fill="#22378a" font-size="10" text-anchor="start"  stroke="#22378a" stroke-width="0.22">308.13°C</text>
<text x="127.4" y="199.9" fill="#942424" font-size="10" text-anchor="start"  stroke="#942424" stroke-width="0.22">63.85°C</text>
<text x="156.4" y="221.2" fill="#1e1e1e" font-size="10" text-anchor="start"  stroke="#1e1e1e" stroke-width="0.22">83.53°C</text>
<text x="145.2" y="315.6" fill="#22378a" font-size="10" text-anchor="start"  stroke="#22378a" stroke-width="0.22">76.08°C</text>
<text x="349.0" y="351.2" fill="#942424" font-size="10" text-anchor="start"  stroke="#942424" stroke-width="0.22">221.58°C</text>
<text x="398.9" y="389.9" fill="#22378a" font-size="10" text-anchor="start"  stroke="#22378a" stroke-width="0.22">231.58°C</text>
<text x="383.6" y="392.5" fill="#1e1e1e" font-size="10" text-anchor="start"  stroke="#1e1e1e" stroke-width="0.22">245.92°C</text>
<text x="0" y="0" transform="translate(507.6 318.9) scale(1.07 1)" fill="#111a14" stroke="#111a14" stroke-width="0.65" stroke-linejoin="round" font-weight="bold" font-size="13.6" letter-spacing="0.62">Sample A</text>
<text x="0" y="0" transform="translate(507.6 341.5) scale(1.07 1)" fill="#3a64a0" stroke="#3a64a0" stroke-width="0.65" stroke-linejoin="round" font-weight="bold" font-size="13.6" letter-spacing="0.62">Sample B</text>
<text x="0" y="0" transform="translate(507.6 364.4) scale(1.07 1)" fill="#a84a2a" stroke="#a84a2a" stroke-width="0.65" stroke-linejoin="round" font-weight="bold" font-size="13.6" letter-spacing="0.62">Sample C</text>
</svg>
</body></html>
